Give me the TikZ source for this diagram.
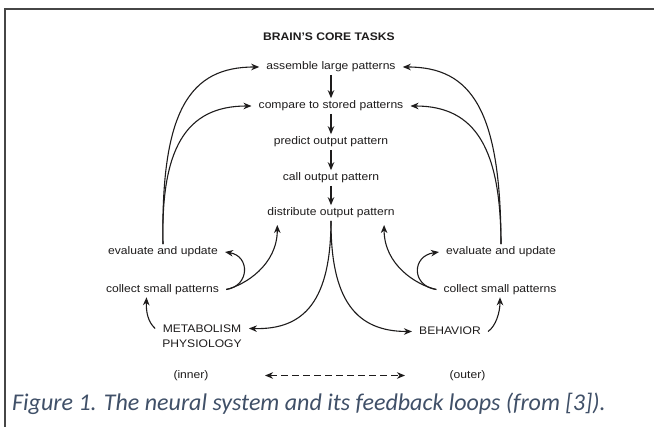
\documentclass[tikz,border=0pt]{standalone}
\usepackage{fontspec}
\newfontfamily\dfont[FakeStretch=1.1]{Liberation Sans}
\newfontfamily\capfont{Carlito}
\usetikzlibrary{arrows.meta}
\definecolor{ink}{RGB}{30,28,28}
\definecolor{capblue}{RGB}{64,80,104}
\definecolor{framegray}{RGB}{70,70,70}

\begin{document}
\begin{tikzpicture}[x=1pt,y=-1pt,
  lbltext/.style={font=\dfont\fontsize{11}{14.7}\selectfont, text=ink,
    inner xsep=7pt, inner ysep=2.5pt},
  lbl/.style={lbltext, text height=7.9pt, text depth=2.3pt},
  tip/.tip={Stealth[length=8pt,width=6.5pt,inset=2.5pt]},
  flow/.style={draw=ink, line width=1.1pt, -tip},
  ]
\useasboundingbox (0,0) rectangle (654,427);
\fill[white] (0,0) rectangle (654,427);
% frame
\draw[framegray, line width=1.5pt] (5,427) -- (5,9) -- (654,9);

% central chain
\node[lbl, font=\dfont\bfseries\fontsize{11}{12}\selectfont] (title) at (329,38) {BRAIN’S CORE TASKS};
\node[lbl] (assemble)   at (331,67)  {assemble large patterns};
\node[lbl] (compare)    at (331,106) {compare to stored patterns};
\node[lbl] (predict)    at (331,142) {predict output pattern};
\node[lbl] (call)       at (331,178) {call output pattern};
\node[lbl] (distribute) at (331,213) {distribute output pattern};

% side loops
\node[lbl] (evalL)    at (163,252)   {evaluate and update};
\node[lbl] (collectL) at (162.5,289.5) {collect small patterns};
\node[lbl] (evalR)    at (501,252)   {evaluate and update};
\node[lbl] (collectR) at (500,289.5) {collect small patterns};

\node[lbltext, align=center, anchor=north] (metab) at (202,322.5) {METABOLISM\\PHYSIOLOGY};
\node[lbl] (behavior) at (450,331.5) {BEHAVIOR};

\node[lbl] (inner) at (191,375.5) {(inner)};
\node[lbl] (outer) at (467.5,376) {(outer)};

\coordinate (dinL) at (277.3,225);
\coordinate (dinR) at (384.1,225);
\coordinate (dashL) at (265,375.5);
\coordinate (dashR) at (405,375.5);

% downward chain
\draw[flow] (assemble) -- (compare);
\draw[flow] (compare) -- (predict);
\draw[flow] (predict) -- (call);
\draw[flow] (call) -- (distribute);

% long feedback arcs
\draw[flow] (evalL.north) .. controls (160.7,110) and (190,67) .. (assemble.west);
\draw[flow] (evalL.north) .. controls (160.7,150) and (185,106) .. (compare.west);
\draw[flow] (evalR.north) .. controls (500.7,110) and (471.4,67) .. (assemble.east);
\draw[flow] (evalR.north) .. controls (500.7,150) and (476.4,106) .. (compare.east);

% short loops
\draw[flow] (collectL.east) .. controls (245,285) and (277.3,265) .. (dinL);
\draw[flow] (collectL.east) .. controls (250,286) and (250,256) .. (evalL.east);
\draw[flow] (collectR.west) .. controls (416.4,285) and (384.1,265) .. (dinR);
\draw[flow] (collectR.west) .. controls (411.4,286) and (411.4,256) .. (evalR.west);

% output branches
\draw[flow] (distribute.south) .. controls (330.7,300) and (305,330) .. ([yshift=8pt]metab.east);
\draw[flow] (distribute.south) .. controls (330.7,300) and (356,331.5) .. (behavior.west);

% sensing back
\draw[flow] ([yshift=8pt]metab.west) .. controls (148,322) and (146,312) .. ([xshift=-16pt]collectL.south);
\draw[flow] (behavior.east) .. controls (496,326) and (500,312) .. (collectR.south);

% inner / outer
\draw[draw=ink, line width=1.1pt, dash pattern=on 7pt off 4pt, tip-tip] (dashL) -- (dashR);

% caption
\node[anchor=base west, inner sep=0pt, font=\capfont\itshape\fontsize{24}{28}\selectfont,
  text=capblue] (caption) at (12,411) {Figure 1. The neural system and its feedback loops (from [3]).};
\end{tikzpicture}
\end{document}
